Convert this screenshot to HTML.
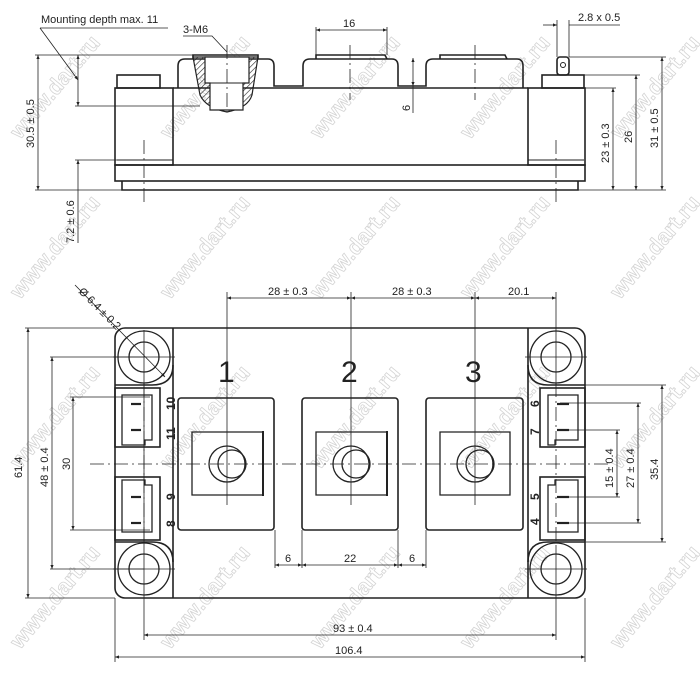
<!DOCTYPE html>
<html><head><meta charset="utf-8"><style>
html,body{margin:0;padding:0;background:#fff}
svg{display:block}
text{font-family:"Liberation Sans",sans-serif;fill:#222}
</style></head><body>
<svg width="700" height="673" viewBox="0 0 700 673" xmlns="http://www.w3.org/2000/svg">
<defs>
<marker id="a" viewBox="0 0 10 10" refX="10" refY="5" markerWidth="7" markerHeight="5" orient="auto-start-reverse"><path d="M0,1 L10,5 L0,9z" fill="#222"/></marker>
<pattern id="h" width="4" height="4" patternUnits="userSpaceOnUse" patternTransform="rotate(45)"><line x1="0" y1="0" x2="0" y2="4" stroke="#222" stroke-width="1.2"/></pattern>
</defs>
<!-- watermarks -->
<g font-size="22" font-weight="bold" fill="none" stroke="#d4d4d4" stroke-width="0.8" style="fill:none">
<text x="0" y="0" transform="translate(20,140) rotate(-50)" style="fill:none">www.dart.ru</text>
<text x="0" y="0" transform="translate(170,140) rotate(-50)" style="fill:none">www.dart.ru</text>
<text x="0" y="0" transform="translate(320,140) rotate(-50)" style="fill:none">www.dart.ru</text>
<text x="0" y="0" transform="translate(470,140) rotate(-50)" style="fill:none">www.dart.ru</text>
<text x="0" y="0" transform="translate(620,140) rotate(-50)" style="fill:none">www.dart.ru</text>
<text x="0" y="0" transform="translate(20,300) rotate(-50)" style="fill:none">www.dart.ru</text>
<text x="0" y="0" transform="translate(170,300) rotate(-50)" style="fill:none">www.dart.ru</text>
<text x="0" y="0" transform="translate(320,300) rotate(-50)" style="fill:none">www.dart.ru</text>
<text x="0" y="0" transform="translate(470,300) rotate(-50)" style="fill:none">www.dart.ru</text>
<text x="0" y="0" transform="translate(620,300) rotate(-50)" style="fill:none">www.dart.ru</text>
<text x="0" y="0" transform="translate(20,470) rotate(-50)" style="fill:none">www.dart.ru</text>
<text x="0" y="0" transform="translate(170,470) rotate(-50)" style="fill:none">www.dart.ru</text>
<text x="0" y="0" transform="translate(320,470) rotate(-50)" style="fill:none">www.dart.ru</text>
<text x="0" y="0" transform="translate(470,470) rotate(-50)" style="fill:none">www.dart.ru</text>
<text x="0" y="0" transform="translate(620,470) rotate(-50)" style="fill:none">www.dart.ru</text>
<text x="0" y="0" transform="translate(20,650) rotate(-50)" style="fill:none">www.dart.ru</text>
<text x="0" y="0" transform="translate(170,650) rotate(-50)" style="fill:none">www.dart.ru</text>
<text x="0" y="0" transform="translate(320,650) rotate(-50)" style="fill:none">www.dart.ru</text>
<text x="0" y="0" transform="translate(470,650) rotate(-50)" style="fill:none">www.dart.ru</text>
<text x="0" y="0" transform="translate(620,650) rotate(-50)" style="fill:none">www.dart.ru</text>
</g>

<g stroke="#222" fill="none" stroke-width="1">
<!-- ===== SIDE VIEW ===== -->
<g stroke-width="1.6">
<rect x="115" y="165" width="470" height="16"/>
<path d="M122,181 V190 H578 V181"/>
<rect x="115" y="88" width="58" height="77"/>
<rect x="117" y="75" width="43" height="13"/>
<rect x="528" y="88" width="57" height="77"/>
<rect x="542" y="75" width="42" height="13"/>
<rect x="557" y="57" width="12" height="18" rx="3"/>
<line x1="173" y1="88" x2="528" y2="88"/>
<path d="M178,88 V66 Q178,59 185,59 H268 Q274,59 274,66 V86 H303 V66 Q303,59 310,59 H392 Q398,59 398,66 V86 H426 V66 Q426,59 433,59 H517 Q523,59 523,66 V88"/>
<path d="M316,59 V55 H385 L387,59"/>
<path d="M440,59 V55 H505 L507,59"/>
<path d="M193,59 V55 H258 V59"/>
</g>
<circle cx="563" cy="65" r="2.5"/>
<line x1="117" y1="160" x2="173" y2="160"/><line x1="528" y1="160" x2="584" y2="160"/>
<!-- hatched insert -->
<path d="M193,57 H258 L252,95 Q248,108 227,112 Q206,108 200,95 Z" fill="url(#h)" stroke-width="1.2"/>
<path d="M205,57 H249 V83 H243 V110 H210 V83 H205 Z" fill="#fff" stroke-width="1.2"/>
<line x1="205" y1="83" x2="249" y2="83"/>
<!-- center lines side -->
<g stroke-dasharray="14,4,2,4" stroke-width="0.8">
<line x1="144" y1="140" x2="144" y2="205"/>
<line x1="556" y1="140" x2="556" y2="205"/>
<line x1="227" y1="45" x2="227" y2="112"/>
<line x1="350" y1="45" x2="350" y2="100"/>
<line x1="475" y1="45" x2="475" y2="100"/>
</g>
<!-- side dims -->
<g stroke-width="0.8">
<line x1="35" y1="55" x2="195" y2="55"/>
<line x1="35" y1="190" x2="122" y2="190"/>
<line x1="38" y1="55" x2="38" y2="190" marker-start="url(#a)" marker-end="url(#a)"/>
<line x1="75" y1="106" x2="200" y2="106"/>
<line x1="78" y1="55" x2="78" y2="106" marker-start="url(#a)" marker-end="url(#a)"/>
<line x1="75" y1="160" x2="117" y2="160"/>
<line x1="78" y1="160" x2="78" y2="243" marker-start="url(#a)"/>
<path d="M40,28 H168"/><line x1="40" y1="28" x2="78" y2="80" marker-end="url(#a)"/>
<path d="M183,36 H212 L227,52"/>
<line x1="316" y1="27" x2="316" y2="55"/><line x1="387" y1="27" x2="387" y2="55"/>
<line x1="316" y1="30" x2="387" y2="30" marker-start="url(#a)" marker-end="url(#a)"/>
<line x1="413" y1="58" x2="413" y2="86" marker-start="url(#a)" marker-end="url(#a)"/>
<line x1="413" y1="86" x2="413" y2="113"/>
<line x1="557" y1="20" x2="557" y2="57"/><line x1="569" y1="20" x2="569" y2="57"/>
<line x1="543" y1="25" x2="557" y2="25" marker-end="url(#a)"/><line x1="569" y1="25" x2="620" y2="25"/>
<line x1="569" y1="57" x2="666" y2="57"/>
<line x1="584" y1="75" x2="640" y2="75"/>
<line x1="585" y1="88" x2="616" y2="88"/>
<line x1="578" y1="190" x2="666" y2="190"/>
<line x1="662" y1="57" x2="662" y2="190" marker-start="url(#a)" marker-end="url(#a)"/>
<line x1="636" y1="75" x2="636" y2="190" marker-start="url(#a)" marker-end="url(#a)"/>
<line x1="613" y1="88" x2="613" y2="190" marker-start="url(#a)" marker-end="url(#a)"/>
</g>

<!-- ===== BOTTOM VIEW ===== -->
<g stroke-width="1.6">
<rect x="115" y="328" width="470" height="270" rx="10"/>
<line x1="173" y1="328" x2="173" y2="598"/>
<line x1="528" y1="328" x2="528" y2="598"/>
<path d="M115,385 H152 Q173,385 173,365"/>
<path d="M115,542 H152 Q173,542 173,562"/>
<path d="M585,385 H548 Q528,385 528,365"/>
<path d="M585,542 H548 Q528,542 528,562"/>
<rect x="115" y="388" width="45" height="59"/>
<rect x="115" y="477" width="45" height="63"/>
<rect x="540" y="388" width="45" height="59"/>
<rect x="540" y="477" width="45" height="63"/>
<rect x="178" y="398" width="96" height="132" rx="3"/>
<rect x="302" y="398" width="96" height="132" rx="3"/>
<rect x="426" y="398" width="97" height="132" rx="3"/>
</g>
<g stroke-width="1.3">
<path d="M122,395 H152 V440 H145 V445 H122 Z"/>
<path d="M122,480 H145 V485 H152 V532 H122 Z"/>
<path d="M578,395 H548 V445 H555 V440 H578 Z"/>
<path d="M578,532 H548 V485 H555 V480 H578 Z"/>
<path d="M192,432 H263 V495 H192 Z"/>
<path d="M316,432 H387 V495 H316 Z"/>
<path d="M440,432 H510 V495 H440 Z"/>
</g>
<g stroke-width="2"><line x1="263" y1="431" x2="263" y2="496"/><line x1="387" y1="431" x2="387" y2="496"/></g>
<g stroke-width="2.2">
<line x1="131" y1="404" x2="141" y2="404"/><line x1="131" y1="430" x2="141" y2="430"/>
<line x1="131" y1="497" x2="141" y2="497"/><line x1="131" y1="523" x2="141" y2="523"/>
<line x1="557" y1="404" x2="569" y2="404"/><line x1="557" y1="430" x2="569" y2="430"/>
<line x1="557" y1="497" x2="569" y2="497"/><line x1="557" y1="523" x2="569" y2="523"/>
</g>
<g stroke-width="1.3">
<circle cx="144" cy="357" r="26"/><circle cx="144" cy="357" r="15"/>
<circle cx="556" cy="357" r="26"/><circle cx="556" cy="357" r="15"/>
<circle cx="144" cy="569" r="26"/><circle cx="144" cy="569" r="15"/>
<circle cx="556" cy="569" r="26"/><circle cx="556" cy="569" r="15"/>
<circle cx="227" cy="464" r="18"/><circle cx="232" cy="464" r="14"/>
<circle cx="351" cy="464" r="18"/><circle cx="356" cy="464" r="14"/>
<circle cx="475" cy="464" r="18"/><circle cx="480" cy="464" r="14"/>
</g>
<!-- center lines bottom -->
<g stroke-width="0.8">
<line x1="90" y1="464" x2="610" y2="464" stroke-dasharray="14,4,2,4"/>
<line x1="144" y1="383" x2="144" y2="545" stroke-dasharray="14,4,2,4"/>
<line x1="556" y1="383" x2="556" y2="545" stroke-dasharray="14,4,2,4"/>
<line x1="227" y1="292" x2="227" y2="505"/>
<line x1="351" y1="292" x2="351" y2="505"/>
<line x1="475" y1="292" x2="475" y2="505"/>
<line x1="556" y1="292" x2="556" y2="385"/>
<line x1="113" y1="357" x2="175" y2="357"/><line x1="525" y1="357" x2="587" y2="357"/>
<line x1="113" y1="569" x2="175" y2="569"/><line x1="525" y1="569" x2="587" y2="569"/>
<line x1="144" y1="330" x2="144" y2="640"/><line x1="556" y1="545" x2="556" y2="640"/>
<line x1="115" y1="598" x2="115" y2="662"/><line x1="585" y1="598" x2="585" y2="662"/>
<line x1="75" y1="285" x2="165" y2="377" marker-end="url(#a)"/>
<line x1="227" y1="298" x2="351" y2="298" marker-start="url(#a)" marker-end="url(#a)"/>
<line x1="351" y1="298" x2="475" y2="298" marker-start="url(#a)" marker-end="url(#a)"/>
<line x1="475" y1="298" x2="556" y2="298" marker-start="url(#a)" marker-end="url(#a)"/>
<line x1="25" y1="328" x2="115" y2="328"/><line x1="25" y1="598" x2="115" y2="598"/>
<line x1="28" y1="328" x2="28" y2="598" marker-start="url(#a)" marker-end="url(#a)"/>
<line x1="50" y1="357" x2="144" y2="357"/><line x1="50" y1="569" x2="144" y2="569"/>
<line x1="52" y1="357" x2="52" y2="569" marker-start="url(#a)" marker-end="url(#a)"/>
<line x1="70" y1="397" x2="150" y2="397"/><line x1="70" y1="530" x2="150" y2="530"/>
<line x1="73" y1="397" x2="73" y2="530" marker-start="url(#a)" marker-end="url(#a)"/>
<line x1="585" y1="385" x2="666" y2="385"/><line x1="585" y1="542" x2="666" y2="542"/>
<line x1="662" y1="385" x2="662" y2="542" marker-start="url(#a)" marker-end="url(#a)"/>
<line x1="560" y1="403" x2="641" y2="403"/><line x1="560" y1="523" x2="641" y2="523"/>
<line x1="638" y1="403" x2="638" y2="523" marker-start="url(#a)" marker-end="url(#a)"/>
<line x1="560" y1="430" x2="620" y2="430"/><line x1="560" y1="497" x2="620" y2="497"/>
<line x1="617" y1="430" x2="617" y2="497" marker-start="url(#a)" marker-end="url(#a)"/>
<line x1="144" y1="635" x2="556" y2="635" marker-start="url(#a)" marker-end="url(#a)"/>
<line x1="115" y1="657" x2="585" y2="657" marker-start="url(#a)" marker-end="url(#a)"/>
<line x1="275" y1="530" x2="275" y2="568"/><line x1="302" y1="530" x2="302" y2="568"/>
<line x1="398" y1="530" x2="398" y2="568"/><line x1="426" y1="530" x2="426" y2="568"/>
<line x1="275" y1="565" x2="302" y2="565" marker-start="url(#a)" marker-end="url(#a)"/>
<line x1="302" y1="565" x2="398" y2="565" marker-start="url(#a)" marker-end="url(#a)"/>
<line x1="398" y1="565" x2="426" y2="565" marker-start="url(#a)" marker-end="url(#a)"/>
</g>
</g>

<!-- text -->
<g font-size="11">
<text x="41" y="23">Mounting depth max. 11</text>
<text x="183" y="33">3-M6</text>
<text x="343" y="27">16</text>
<text x="578" y="21">2.8 x 0.5</text>
<text transform="translate(34,148) rotate(-90)">30.5 ± 0.5</text>
<text transform="translate(74,243) rotate(-90)">7.2 ± 0.6</text>
<text transform="translate(410,111) rotate(-90)">6</text>
<text transform="translate(609,163) rotate(-90)">23 ± 0.3</text>
<text transform="translate(632,143) rotate(-90)">26</text>
<text transform="translate(658,148) rotate(-90)">31 ± 0.5</text>
<text transform="translate(78,292) rotate(45)">Ø 6.4 ± 0.2</text>
<text x="268" y="295">28 ± 0.3</text>
<text x="392" y="295">28 ± 0.3</text>
<text x="508" y="295">20.1</text>
<text transform="translate(22,478) rotate(-90)">61.4</text>
<text transform="translate(48,487) rotate(-90)">48 ± 0.4</text>
<text transform="translate(70,470) rotate(-90)">30</text>
<text transform="translate(613,488) rotate(-90)">15 ± 0.4</text>
<text transform="translate(634,488) rotate(-90)">27 ± 0.4</text>
<text transform="translate(658,480) rotate(-90)">35.4</text>
<text x="285" y="562">6</text>
<text x="344" y="562">22</text>
<text x="409" y="562">6</text>
<text x="333" y="632">93 ± 0.4</text>
<text x="335" y="654">106.4</text>
</g>
<g font-size="30"><text x="218" y="382">1</text><text x="341" y="382">2</text><text x="465" y="382">3</text></g>
<g font-size="12" font-weight="bold">
<text transform="translate(175,410) rotate(-90)">10</text>
<text transform="translate(175,440) rotate(-90)">11</text>
<text transform="translate(175,500) rotate(-90)">9</text>
<text transform="translate(175,527) rotate(-90)">8</text>
<text transform="translate(539,407) rotate(-90)">6</text>
<text transform="translate(539,435) rotate(-90)">7</text>
<text transform="translate(539,500) rotate(-90)">5</text>
<text transform="translate(539,525) rotate(-90)">4</text>
</g>
</svg>
</body></html>
